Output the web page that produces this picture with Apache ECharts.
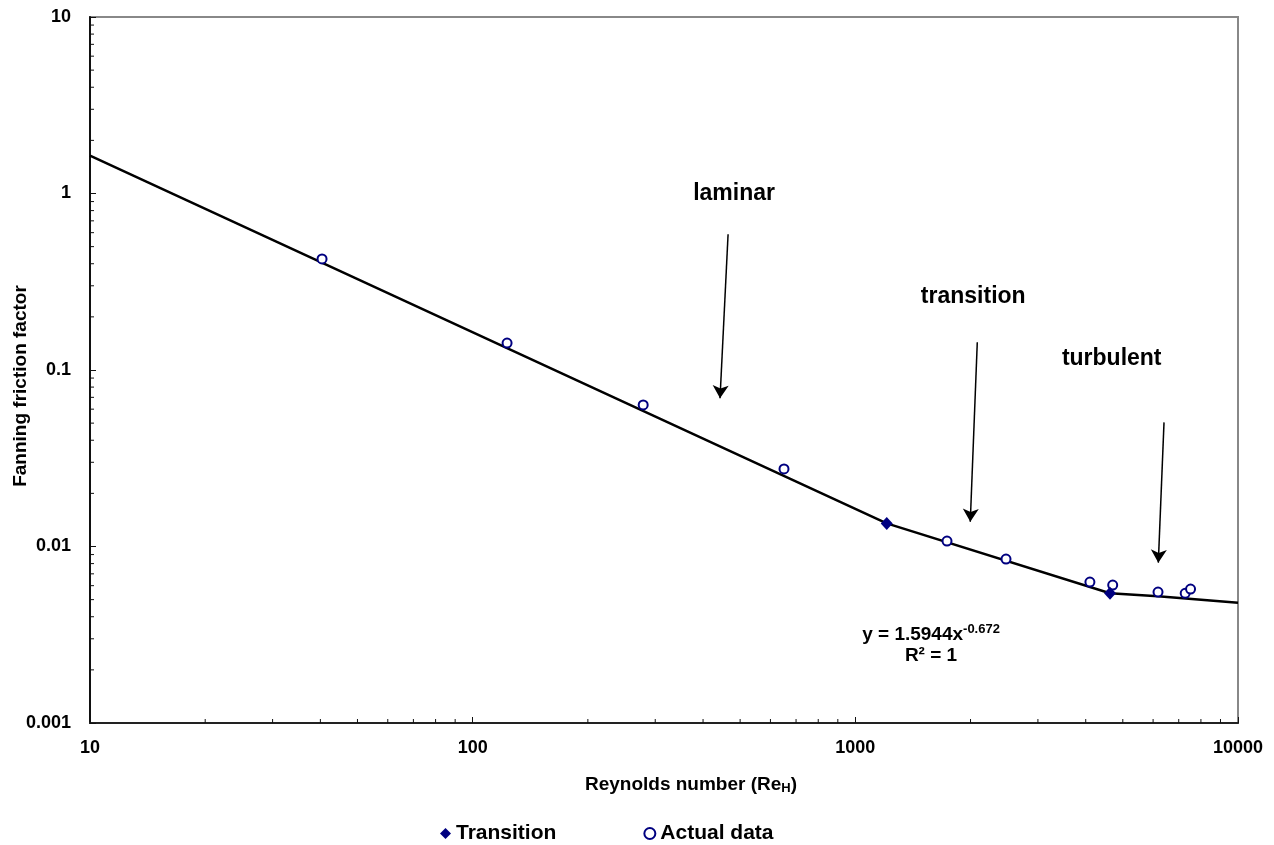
<!DOCTYPE html>
<html>
<head>
<meta charset="utf-8">
<style>
  html, body { margin: 0; padding: 0; background: #fff; }
  #main { width: 1274px; height: 845px; }
</style>
<script src="https://cdn.jsdelivr.net/npm/echarts@6/dist/echarts.min.js"></script>
</head>
<body>
<div id="main"></div>
<script>
// measured data
var actualRe = [40.4, 123, 279, 651, 1736, 2476, 4102, 4705, 6180, 7278, 7516];
var actualF  = [0.426, 0.142, 0.0634, 0.0275, 0.01074, 0.00849, 0.00629, 0.00605, 0.00552, 0.00543, 0.00574];

var transitionRe = [1208, 4629];
var transitionF  = [0.01352, 0.00543];

// correlation line (laminar, transition power fit, turbulent)
var fitRe = [10, 1208, 4629, 6180, 10000];
var fitF  = [1.64, 0.01352, 0.00543, 0.00522, 0.0048];

// regime annotations
var regimeNames = ['laminar', 'transition', 'turbulent'];
var regimeLabelRe = [482, 2033, 4677];
var regimeLabelF  = [1.0, 0.26, 0.1164];
var arrowFrom = [[465, 0.588], [2083, 0.1436], [6407, 0.0505]];
var arrowTo   = [[443, 0.0691], [1997, 0.01382], [6191, 0.0081]];

var eqRe = 1577, eqF = 0.0028;

var xTickLabels = ['10', '100', '1000', '10000'];
var yTickLabels = ['0.001', '0.01', '0.1', '1', '10'];
var xMin = 10, xMax = 10000, yMin = 0.001, yMax = 10;
var minorFactors = [2, 3, 4, 5, 6, 7, 8, 9];

function showChart() {
    var dom = document.getElementById('main');
    var myChart = echarts.init(dom);
    var font = 'Liberation Sans, Arial, sans-serif';

    function zip(a, b) {
        return a.map(function (v, i) { return [v, b[i]]; });
    }

    // minor tick positions (axis structure only)
    var ticks = [];
    for (var d = 10; d < xMax; d *= 10) {
        minorFactors.forEach(function (f) { ticks.push([f * d, yMin, 0]); });
    }
    for (var e = yMin; e < yMax * 0.99; e *= 10) {
        minorFactors.forEach(function (f) { ticks.push([xMin, f * e, 1]); });
    }

    var markLines = arrowFrom.map(function (p, i) {
        return [{ coord: p }, { coord: arrowTo[i] }];
    });
    var markPoints = regimeNames.map(function (n, i) {
        return { name: n, coord: [regimeLabelRe[i], regimeLabelF[i]] };
    });
    markPoints.push({
        name: 'eq', coord: [eqRe, eqF],
        label: {
            formatter: '{b|y = 1.5944x}{s|-0.672}\n{b|R² = 1}',
            rich: {
                b: { fontSize: 19, fontWeight: 'bold', fontFamily: font, color: '#000', verticalAlign: 'bottom', lineHeight: 21 },
                s: { fontSize: 13, fontWeight: 'bold', fontFamily: font, color: '#000', verticalAlign: 'top', lineHeight: 21 }
            }
        }
    });

    var option = {
        animation: false,
        backgroundColor: '#fff',
        grid: {
            left: 90, right: 36, top: 17, bottom: 122,
            containLabel: false,
            outerBoundsMode: 'none',
            show: true, borderColor: '#888', borderWidth: 2
        },
        legend: {
            data: ['Transition', 'Actual data'],
            left: 435, top: 818,
            itemWidth: 11, itemHeight: 11, itemGap: 87,
            textStyle: { fontSize: 21, fontWeight: 'bold', fontFamily: font, color: '#000' }
        },
        xAxis: {
            type: 'log', logBase: 10, min: xMin, max: xMax,
            name: 'Reynolds number (Re{sub|H})',
            nameLocation: 'middle', nameGap: 51,
            nameMoveOverlap: false,
            nameTextStyle: {
                fontSize: 19, fontWeight: 'bold', fontFamily: font, color: '#000',
                padding: [0, 0, 0, 54],
                rich: { sub: { fontSize: 13, fontWeight: 'bold', fontFamily: font, verticalAlign: 'bottom', padding: [8, 0, 0, 0] } }
            },
            axisLine: { lineStyle: { color: '#222', width: 2 } },
            axisTick: { inside: true, length: 6, lineStyle: { color: '#111', width: 1 } },
            splitLine: { show: false },
            axisLabel: {
                margin: 16, fontSize: 18, fontWeight: 'bold', fontFamily: font, color: '#000',
                formatter: function (v) { return xTickLabels[Math.round(Math.log10(v)) - 1]; }
            }
        },
        yAxis: {
            type: 'log', logBase: 10, min: yMin, max: yMax,
            name: 'Fanning friction factor',
            nameLocation: 'middle', nameGap: 60,
            nameMoveOverlap: false,
            nameTextStyle: {
                fontSize: 19, fontWeight: 'bold', fontFamily: font, color: '#000',
                padding: [0, 32, 0, 0]
            },
            axisLine: { lineStyle: { color: '#111', width: 2 } },
            axisTick: { inside: true, length: 6, lineStyle: { color: '#111', width: 1 } },
            splitLine: { show: false },
            axisLabel: {
                margin: 19, fontSize: 18, fontWeight: 'bold', fontFamily: font, color: '#000',
                formatter: function (v) { return yTickLabels[Math.round(Math.log10(v)) + 3]; }
            }
        },
        series: [
            {
                name: 'fit',
                type: 'line',
                data: zip(fitRe, fitF),
                showSymbol: false,
                symbol: 'none',
                lineStyle: { color: '#000', width: 2.5 },
                z: 2,
                silent: true,
                markLine: {
                    silent: true,
                    symbol: ['none', 'arrow'],
                    symbolSize: [12, 13],
                    label: { show: false },
                    lineStyle: { color: '#000', width: 1.5, type: 'solid' },
                    data: markLines
                },
                markPoint: {
                    silent: true,
                    symbol: 'circle',
                    symbolSize: 1,
                    itemStyle: { color: 'rgba(0,0,0,0)' },
                    label: {
                        show: true, position: 'inside', formatter: '{b}',
                        fontSize: 23, fontWeight: 'bold', fontFamily: font, color: '#000',
                        align: 'center', verticalAlign: 'middle'
                    },
                    data: markPoints
                }
            },
            {
                name: 'Actual data',
                type: 'scatter',
                data: zip(actualRe, actualF),
                symbol: 'circle',
                symbolSize: 9,
                itemStyle: { color: '#fff', borderColor: '#000080', borderWidth: 2, opacity: 1 },
                z: 3
            },
            {
                name: 'Transition',
                type: 'scatter',
                data: zip(transitionRe, transitionF),
                symbol: 'diamond',
                symbolSize: [12, 13],
                itemStyle: { color: '#000080', opacity: 1 },
                z: 4
            },
            {
                name: 'minor ticks',
                type: 'custom',
                silent: true,
                data: ticks,
                encode: { x: 0, y: 1 },
                renderItem: function (params, api) {
                    var p = api.coord([api.value(0), api.value(1)]);
                    var onX = api.value(2) === 0;
                    return {
                        type: 'line',
                        shape: onX
                            ? { x1: p[0], y1: p[1], x2: p[0], y2: p[1] - 4 }
                            : { x1: p[0], y1: p[1], x2: p[0] + 4, y2: p[1] },
                        style: { stroke: '#111', lineWidth: 1 }
                    };
                },
                z: 5
            }
        ]
    };

    if (option && typeof option === 'object') {
        myChart.setOption(option, true);
    }

    window.addEventListener('resize', function () {
        myChart.resize();
    });
}
showChart();
</script>
</body>
</html>
